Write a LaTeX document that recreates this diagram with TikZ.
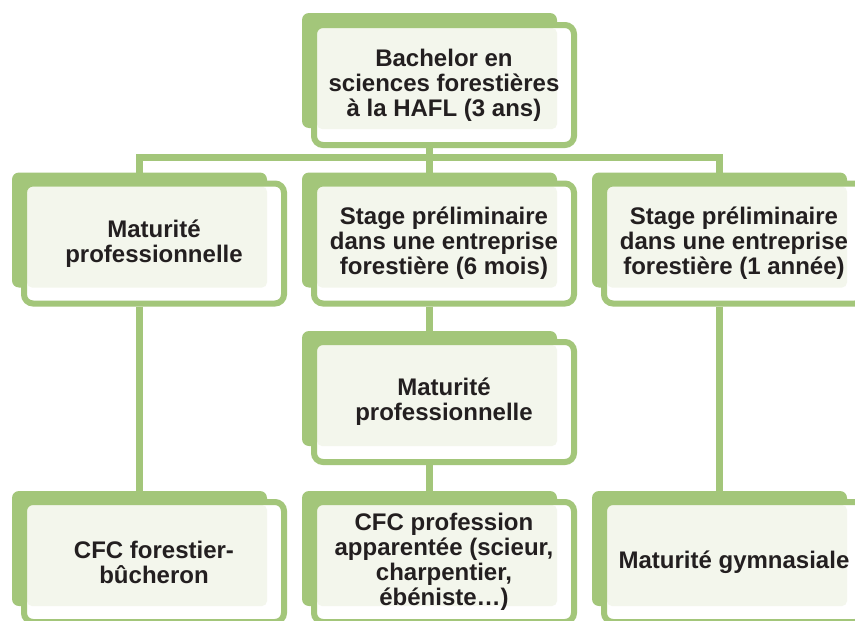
\documentclass[tikz,border=0pt]{standalone}
\usepackage{fontspec}
\setmainfont{Liberation Sans}
\definecolor{vert}{HTML}{A3C67A}
\definecolor{pale}{HTML}{F3F6EC}
\definecolor{encre}{HTML}{231F20}
\tikzset{
	boite/.style={draw=vert, line width=6pt, fill=white, rounded corners=9pt,
		minimum width=260pt, minimum height=120pt, inner sep=0pt, align=center,
		text=encre, font=\fontsize{24}{25}\selectfont\bfseries,
		path picture={\fill[pale, rounded corners=5pt] ([shift={(-127pt,57pt)}]path picture bounding box.center) rectangle ++(240pt,-101pt);}},
	fond/.style={fill=vert, rounded corners=7pt},
	lien/.style={draw=vert, line width=7pt}
}
\begin{document}
\begin{tikzpicture}[x=1pt,y=-1pt]
		\useasboundingbox (0,0) rectangle (855,621);
		\fill[white] (0,0) rectangle (855,621);
		
		\fill[fond] (302,13) rectangle (557,128);
		\fill[fond] (12,172.5) rectangle (267,287.5);
		\fill[fond] (302,172.5) rectangle (557,287.5);
		\fill[fond] (592,172.5) rectangle (847,287.5);
		\fill[fond] (302,331) rectangle (557,446);
		\fill[fond] (12,491) rectangle (267,606);
		\fill[fond] (302,491) rectangle (557,606);
		\fill[fond] (592,491) rectangle (847,606);
		
		\node (bachelor) at (444,85) [boite] {Bachelor en\\sciences forestières\\à la HAFL (3 ans)};
		\node (matpro1) at (154,243.5) [boite] {Maturité\\professionnelle};
		\node (stage1) at (444,243.5) [boite] {Stage préliminaire\\dans une entreprise\\forestière (6 mois)};
		\node (stage2) at (734,243.5) [boite] {Stage préliminaire\\dans une entreprise\\forestière (1 année)};
		\node (matpro2) at (444,402) [boite] {Maturité\\professionnelle};
		\node (cfc1) at (154,562) [boite] {CFC forestier-\\bûcheron};
		\node (cfc2) at (444,562) [boite] {CFC profession\\apparentée (scieur,\\charpentier,\\ébéniste…)};
		\node (gymn) at (734,562) [boite] {Maturité gymnasiale};
		
		\coordinate (barre) at (429,157);
		\draw[lien] ([xshift=-15pt]matpro1.north) |- (barre) -| ([xshift=-15pt]stage2.north);
		\draw[lien] ([xshift=-15pt]bachelor.south) -- ([xshift=-15pt]stage1.north);
		\draw[lien] ([xshift=-15pt]stage1.south) -- ([xshift=-15pt]matpro2.north);
		\draw[lien] ([xshift=-15pt]matpro2.south) -- ([xshift=-15pt]cfc2.north);
		\draw[lien] ([xshift=-15pt]matpro1.south) -- ([xshift=-15pt]cfc1.north);
		\draw[lien] ([xshift=-15pt]stage2.south) -- ([xshift=-15pt]gymn.north);
	\end{tikzpicture}
\end{document}
